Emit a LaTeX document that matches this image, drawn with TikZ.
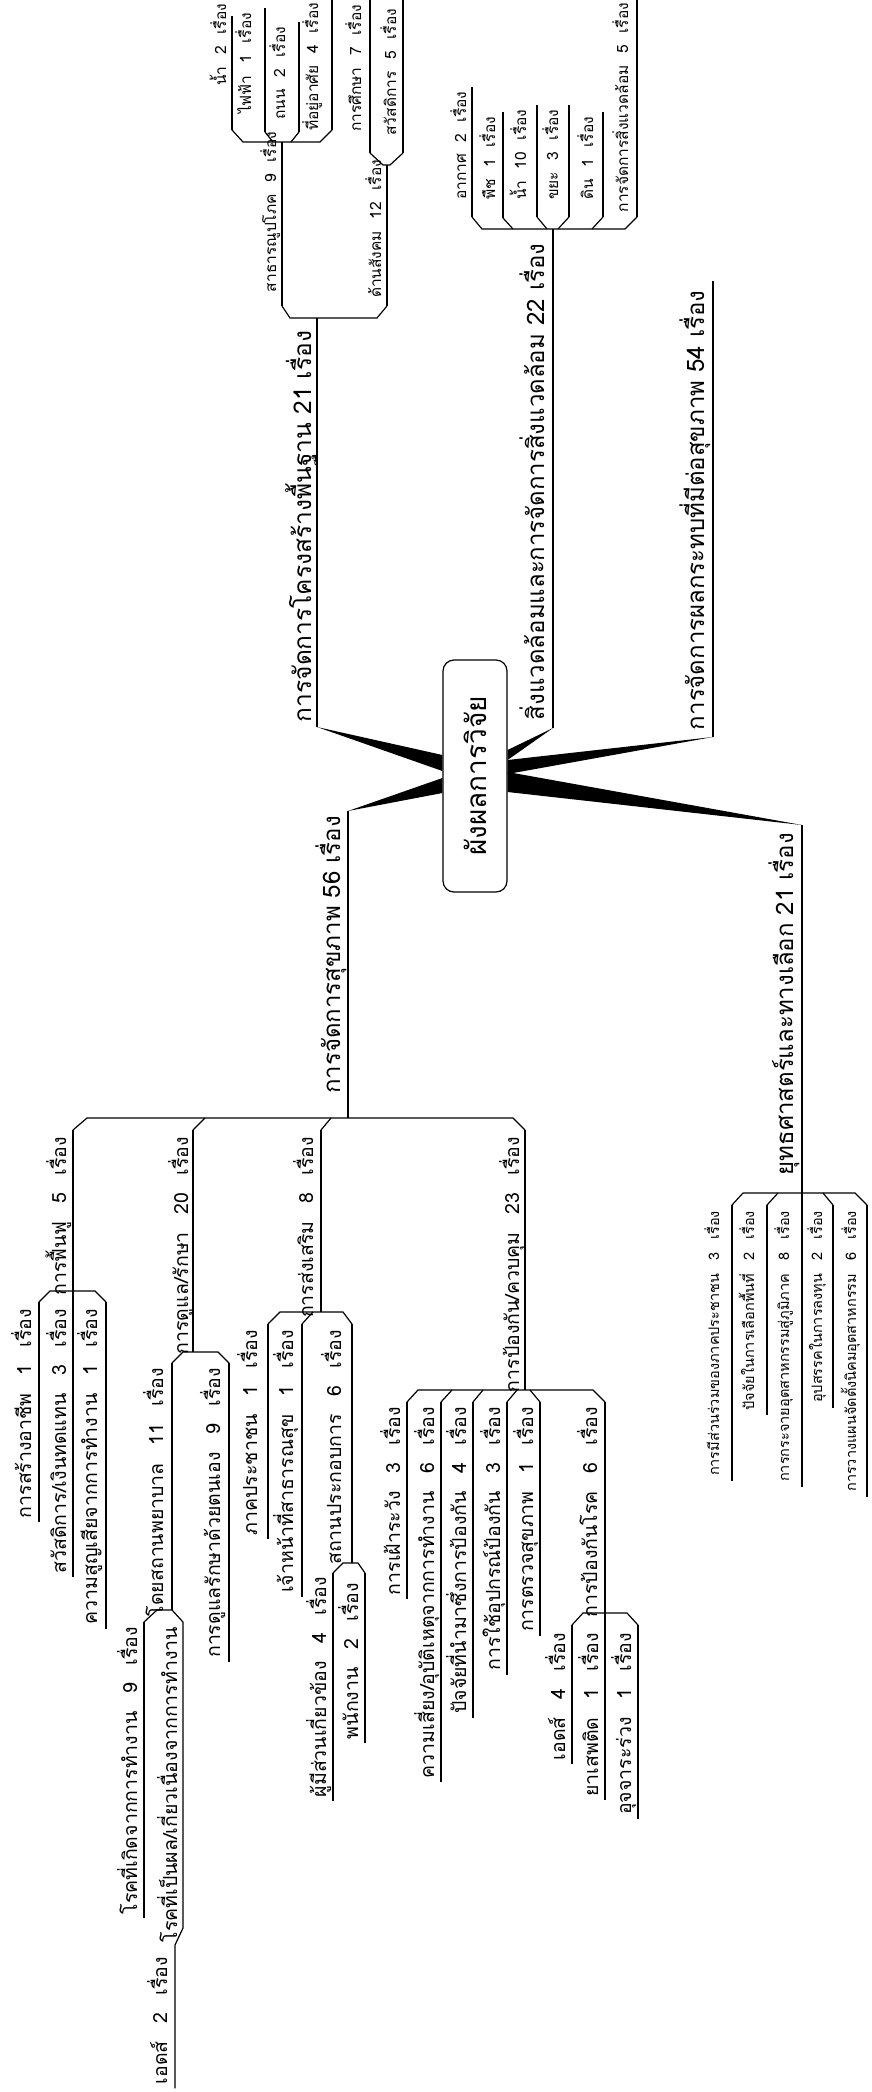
\documentclass[tikz,border=0pt]{standalone}
\usepackage{fontspec}
\newfontfamily\thai[Script=Thai]{Loma}
\usetikzlibrary{calc}
\newcommand\fntS{\thai\fontsize{15.5}{18}\selectfont\spaceskip=0.75em\relax}
\newcommand\fntT{\thai\fontsize{14.5}{17}\selectfont\spaceskip=0.9em\relax}
\newcommand\fntM{\thai\fontsize{19.5}{23}\selectfont\spaceskip=0.9em\relax}
\newcommand\fntL{\thai\fontsize{24}{28}\selectfont}
\newcommand\fntLL{\thai\fontsize{24.5}{29}\selectfont}
\newcommand\fntR{\thai\fontsize{28}{32}\selectfont}
\begin{document}
\begin{tikzpicture}[x=1pt,y=-1pt,line width=1.2pt,
  lbl/.style={inner sep=0pt,outer sep=0pt,rotate=90},
  tS/.style={lbl,font=\fntS},
  tT/.style={lbl,font=\fntT},
  tM/.style={lbl,font=\fntM},
  tL/.style={lbl,font=\fntL},
  wedge/.style={fill=black,draw=none},
  rootbox/.style={draw,rounded corners=11pt,rotate=90,minimum width=232pt,minimum height=64pt,inner sep=0pt,font=\fntR}]
\useasboundingbox (0,0) rectangle (872,2092);
\fill[white] (0,0) rectangle (872,2092);

% ---------- centre ----------
\node[rootbox] (root) at (475,776) {ผังผลการวิจัย};

\coordinate (infra) at (317,727);
\coordinate (health) at (348,811);
\coordinate (env) at (553,728);
\coordinate (impact) at (713,737);
\coordinate (strat) at (802,825);

\fill[wedge] (infra) -- ($(root.north)+(0,-21)$) -- ($(root.north)+(0,-5)$) -- cycle;
\fill[wedge] (health) -- ($(root.north)+(0,2)$) -- ($(root.north)+(0,17)$) -- cycle;
\fill[wedge] (env) -- ($(root.south)+(0,-26)$) -- ($(root.south)+(0,-16)$) -- cycle;
\fill[wedge] (impact) -- ($(root.south)+(0,-16)$) -- ($(root.south)+(0,-2)$) -- cycle;
\fill[wedge] (strat) -- ($(root.south)+(0,-4)$) -- ($(root.south)+(0,16)$) -- cycle;

% ---------- main labels ----------
\node[lbl,font=\fntLL,anchor=base west] (tInfra) at (311,722) {การจัดการโครงสร้างพื้นฐาน 21 เรื่อง};
\node[tL,anchor=base west] (tEnv) at (544,720) {สิ่งแวดล้อมและการจัดการสิ่งแวดล้อม 22 เรื่อง};
\node[tL,anchor=base west] (tImp) at (704,730) {การจัดการผลกระทบที่มีต่อสุขภาพ 54 เรื่อง};
\node[tL,anchor=base east] (tStr) at (793,833) {ยุทธศาสตร์และทางเลือก 21 เรื่อง};
\node[tL,anchor=base east] (tHea) at (340,816) {การจัดการสุขภาพ 56 เรื่อง};

% ---------- infrastructure ----------
\coordinate (infraTop) at (317,318);
\draw (infra) -- (infraTop);
\draw (282,306) -- (290,318) -- (377,318) -- (387,306);
\coordinate (cUtil) at (282,306);
\coordinate (cSoc) at (387,306);
\draw (cUtil) -- (282,142);
\draw (cSoc) -- (387,165);
\node[tS,anchor=base west] (tUtil) at (276,292) {สาธารณูปโภค 9 เรื่อง};
\node[tS,anchor=base west] (tSoc) at (381,298) {ด้านสังคม 12 เรื่อง};

\draw (232,130) -- (243,142) -- (320,142) -- (332,130);
\draw (265,132) -- (273,142);
\draw (299,132) -- (291,142);
\coordinate (cWat) at (232,130);
\coordinate (cElec) at (265,132);
\coordinate (cRoad) at (299,132);
\coordinate (cHouse) at (332,130);
\node[tS,anchor=base east] (tWat) at (226,4) {น้ำ 2 เรื่อง};
\node[tS,anchor=base east] (tElec) at (251,13) {ไฟฟ้า 1 เรื่อง};
\node[tS,anchor=base east] (tRoad) at (285,27) {ถนน 2 เรื่อง};
\node[tS,anchor=base east] (tHouse) at (318,3) {ที่อยู่อาศัย 4 เรื่อง};
\draw (cWat) -- (232,16);
\draw (cElec) -- (265,8);
\draw (cRoad) -- (299,22);
\draw (cHouse) -- (332,0);

\draw (370,153) -- (383,165) -- (390,165) -- (403,153);
\coordinate (cEdu) at (370,153);
\coordinate (cWelf) at (403,153);
\draw (cEdu) -- (370,0);
\draw (cWelf) -- (403,0);
\node[tS,anchor=base east] (tEdu) at (361,5) {การศึกษา 7 เรื่อง};
\node[tS,anchor=base east] (tWelf) at (396,9) {สวัสดิการ 5 เรื่อง};

% ---------- environment ----------
\draw (env) -- (553,229);
\draw (472,217) -- (482,229) -- (625,229) -- (637,217);
\draw (503,218) -- (513,229);
\draw (537,217) -- (547,229);
\draw (569,217) -- (558,229);
\draw (603,217) -- (592,229);
\coordinate (cAir) at (472,217);
\coordinate (cPlant) at (503,218);
\coordinate (cWater) at (537,217);
\coordinate (cWaste) at (569,217);
\coordinate (cSoil) at (603,217);
\coordinate (cEnvM) at (637,217);
\node[tS,anchor=base west] (tAir) at (466,200) {อากาศ 2 เรื่อง};
\node[tS,anchor=base west] (tPlant) at (495,200) {พืช 1 เรื่อง};
\node[tS,anchor=base west] (tWater) at (526,200) {น้ำ 10 เรื่อง};
\node[tS,anchor=base west] (tWaste) at (558,200) {ขยะ 3 เรื่อง};
\node[tS,anchor=base west] (tSoil) at (593,200) {ดิน 1 เรื่อง};
\node[tS,anchor=base east] (tEnvM) at (628,3) {การจัดการสิ่งแวดล้อม 5 เรื่อง};
\draw (cAir) -- ($(cAir |- tAir.east)+(0,-5)$);
\draw (cPlant) -- ($(cPlant |- tPlant.east)+(0,-5)$);
\draw (cWater) -- ($(cWater |- tWater.east)+(0,-5)$);
\draw (cWaste) -- ($(cWaste |- tWaste.east)+(0,-5)$);
\draw (cSoil) -- ($(cSoil |- tSoil.east)+(0,-5)$);
\draw (cEnvM) -- (637,0);

% ---------- impact ----------
\draw (impact) -- ($(impact |- tImp.east)+(0,-10)$);

% ---------- strategy ----------
\draw (743,1193) -- (732,1205);
\draw (743,1193) -- (855,1193) -- (867,1205);
\draw (778,1193) -- (767,1205);
\draw (823,1193) -- (833,1205);
\coordinate (cS1) at (732,1205);
\coordinate (cS2) at (767,1205);
\coordinate (cS3) at (802,1193);
\coordinate (cS4) at (833,1205);
\coordinate (cS5) at (867,1205);
\node[tT,anchor=base east] (tS1) at (719,1211) {การมีส่วนร่วมของภาคประชาชน 3 เรื่อง};
\node[tT,anchor=base east] (tS2) at (754,1211) {ปัจจัยในการเลือกพื้นที่ 2 เรื่อง};
\node[tT,anchor=base east] (tS3) at (789,1211) {การกระจายอุตสาหกรรมสู่ภูมิภาค 8 เรื่อง};
\node[tT,anchor=base east] (tS4) at (822,1211) {อุปสรรคในการลงทุน 2 เรื่อง};
\node[tT,anchor=base east] (tS5) at (856,1211) {การวางแผนจัดตั้งนิคมอุตสาหกรรม 6 เรื่อง};
\draw (strat) -- ($(cS3 |- tS3.west)+(0,5)$);
\draw (cS1) -- ($(cS1 |- tS1.west)+(0,5)$);
\draw (cS2) -- ($(cS2 |- tS2.west)+(0,5)$);
\draw (cS4) -- ($(cS4 |- tS4.west)+(0,5)$);
\draw (cS5) -- ($(cS5 |- tS5.west)+(0,5)$);

% ---------- health ----------
\draw (health) -- (348,1118);
\draw (73,1130) -- (87,1118) -- (513,1118) -- (525,1130);
\draw (205,1118) -- (193,1130);
\draw (331,1118) -- (321,1130);
\node[tM,anchor=base east] (tRehab) at (66,1137) {การฟื้นฟู 5 เรื่อง};
\node[tM,anchor=base east] (tCare) at (188,1137) {การดูแล/รักษา 20 เรื่อง};
\node[tM,anchor=base east] (tProm) at (313,1137) {การส่งเสริม 8 เรื่อง};
\node[tM,anchor=base east] (tPrev) at (519,1137) {การป้องกัน/ควบคุม 23 เรื่อง};

% rehabilitation
\draw (39,1302) -- (50,1291) -- (95,1291) -- (106,1302);
\coordinate (cJob) at (39,1302);
\coordinate (cWel) at (73,1130);
\coordinate (cLoss) at (106,1302);
\node[tM,anchor=base east] (tJob) at (31,1309) {การสร้างอาชีพ 1 เรื่อง};
\node[tM,anchor=base east] (tWel) at (66,1309) {สวัสดิการ/เงินทดแทน 3 เรื่อง};
\node[tM,anchor=base east] (tLoss) at (97,1309) {ความสูญเสียจากการทำงาน 1 เรื่อง};
\draw (cJob) -- ($(cJob |- tJob.west)+(0,4)$);
\draw (cWel) -- ($(cWel |- tWel.west)+(0,4)$);
\draw (cLoss) -- ($(cLoss |- tLoss.west)+(0,4)$);

% care / treatment
\draw (193,1130) -- (193,1352);
\draw (172,1363) -- (183,1352) -- (218,1352) -- (229,1363);
\coordinate (cHosp) at (172,1363);
\coordinate (cSelf) at (229,1363);
\node[tM,anchor=base east] (tHosp) at (163,1368) {โดยสถานพยาบาล 11 เรื่อง};
\node[tM,anchor=base east] (tSelf) at (220,1368) {การดูแลรักษาด้วยตนเอง 9 เรื่อง};
\draw (cHosp) -- (172,1610);
\draw (cSelf) -- ($(cSelf |- tSelf.west)+(0,4)$);
\draw (144,1622) -- (157,1610) -- (172,1610) -- (183,1622);
\coordinate (cOcc) at (144,1622);
\coordinate (cRel) at (183,1622);
\node[tM,anchor=base east] (tOcc) at (137,1627) {โรคที่เกิดจากการทำงาน 9 เรื่อง};
\node[tM,anchor=base east] (tRel) at (177,1627) {โรคที่เป็นผล/เกี่ยวเนื่องจากการทำงาน};
\node[tM,anchor=base east] (tAidsA) at (167,1957) {เอดส์ 2 เรื่อง};
\draw (cOcc) -- ($(cOcc |- tOcc.west)+(0,4)$);
\coordinate (cAidsA) at (175,1945);
\draw (cRel) -- (183,1928) -- (cAidsA) -- ($(cAidsA |- tAidsA.west)+(0,4)$);

% promotion
\draw (321,1130) -- (321,1312);
\draw (268,1324) -- (280,1312) -- (343,1312) -- (352,1324);
\draw (313,1312) -- (302,1324);
\coordinate (cPub) at (268,1324);
\coordinate (cOff) at (302,1324);
\coordinate (cEst) at (352,1324);
\node[tM,anchor=base east] (tPub) at (257,1330) {ภาคประชาชน 1 เรื่อง};
\node[tM,anchor=base east] (tOff) at (293,1330) {เจ้าหน้าที่สาธารณสุข 1 เรื่อง};
\node[tM,anchor=base east] (tEst) at (341,1330) {สถานประกอบการ 6 เรื่อง};
\draw (cPub) -- ($(cPub |- tPub.west)+(0,4)$);
\draw (cOff) -- ($(cOff |- tOff.west)+(0,4)$);
\draw (cEst) -- (352,1563);
\draw (333,1573) -- (343,1563) -- (358,1563) -- (365,1573);
\coordinate (cStake) at (333,1573);
\coordinate (cEmp) at (365,1573);
\node[tM,anchor=base east] (tStake) at (326,1577) {ผู้มีส่วนเกี่ยวข้อง 4 เรื่อง};
\node[tM,anchor=base east] (tEmp) at (358,1583) {พนักงาน 2 เรื่อง};
\draw (cStake) -- ($(cStake |- tStake.west)+(0,4)$);
\draw (cEmp) -- ($(cEmp |- tEmp.west)+(0,4)$);

% prevention
\draw (525,1130) -- (525,1390);
\draw (407,1402) -- (418,1390) -- (593,1390) -- (605,1402);
\draw (452,1390) -- (441,1402);
\draw (483,1390) -- (473,1402);
\draw (517,1390) -- (507,1402);
\draw (530,1390) -- (540,1402);
\coordinate (cSurv) at (407,1402);
\coordinate (cRisk) at (441,1402);
\coordinate (cFact) at (473,1402);
\coordinate (cEquip) at (507,1402);
\coordinate (cCheck) at (540,1402);
\coordinate (cDis) at (605,1402);
\node[tM,anchor=base east] (tSurv) at (400,1407) {การเฝ้าระวัง 3 เรื่อง};
\node[tM,anchor=base east] (tRisk) at (434,1407) {ความเสี่ยง/อุบัติเหตุจากการทำงาน 6 เรื่อง};
\node[tM,anchor=base east] (tFact) at (466,1407) {ปัจจัยที่นำมาซึ่งการป้องกัน 4 เรื่อง};
\node[tM,anchor=base east] (tEquip) at (500,1407) {การใช้อุปกรณ์ป้องกัน 3 เรื่อง};
\node[tM,anchor=base east] (tCheck) at (533,1407) {การตรวจสุขภาพ 1 เรื่อง};
\node[tM,anchor=base east] (tDis) at (597,1407) {การป้องกันโรค 6 เรื่อง};
\draw (cSurv) -- ($(cSurv |- tSurv.west)+(0,4)$);
\draw (cRisk) -- ($(cRisk |- tRisk.west)+(0,4)$);
\draw (cFact) -- ($(cFact |- tFact.west)+(0,4)$);
\draw (cEquip) -- ($(cEquip |- tEquip.west)+(0,4)$);
\draw (cCheck) -- ($(cCheck |- tCheck.west)+(0,4)$);
\draw (572,1625) -- (583,1613) -- (627,1613) -- (638,1625);
\coordinate (cAidsB) at (572,1625);
\coordinate (cDiar) at (638,1625);
\node[tM,anchor=base east] (tAidsB) at (565,1633) {เอดส์ 4 เรื่อง};
\node[tM,anchor=base east] (tDrug) at (598,1633) {ยาเสพติด 1 เรื่อง};
\node[tM,anchor=base east] (tDiar) at (631,1633) {อุจจาระร่วง 1 เรื่อง};
\draw (cDis) -- ($(cDis |- tDrug.west)+(0,4)$);
\draw (cAidsB) -- ($(cAidsB |- tAidsB.west)+(0,4)$);
\draw (cDiar) -- ($(cDiar |- tDiar.west)+(0,4)$);
\end{tikzpicture}
\end{document}
